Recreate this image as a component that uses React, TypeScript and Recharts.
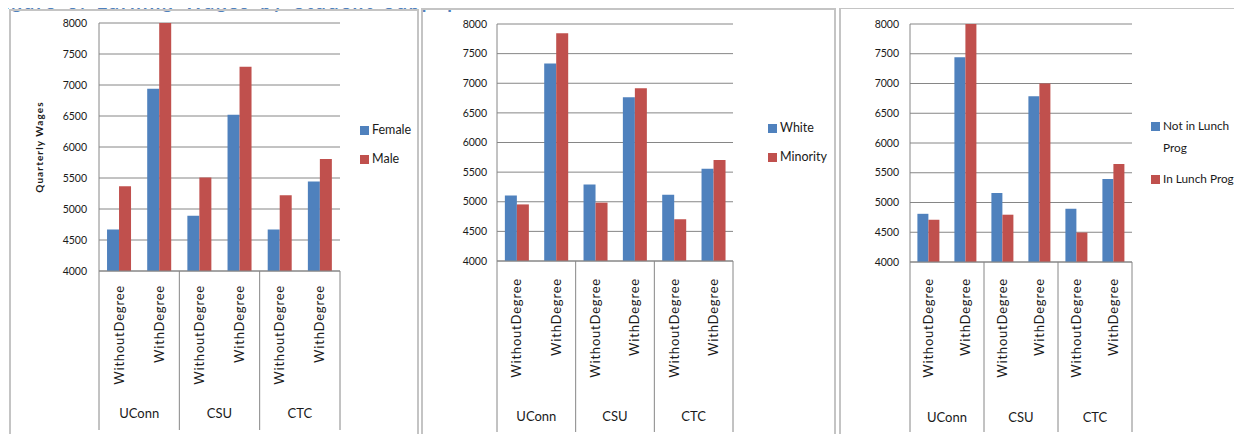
import React from "react";
import { BarChart, Bar, XAxis, YAxis, CartesianGrid } from "recharts";

const GROUPS = ["UConn", "CSU", "CTC"];
const LEVELS = ["WithoutDegree", "WithDegree"];
const Y_TICKS = [4000, 4500, 5000, 5500, 6000, 6500, 7000, 7500, 8000];

// values, order: UConn w/o, UConn with, CSU w/o, CSU with, CTC w/o, CTC with
const FEMALE = [4670, 6940, 4890, 6520, 4670, 5445];
const MALE = [5365, 8000, 5510, 7295, 5220, 5805];
const WHITE = [5105, 7335, 5290, 6765, 5120, 5555];
const MINORITY = [4955, 7845, 4985, 6915, 4705, 5705];
const NOT_LUNCH = [4810, 7440, 5160, 6785, 4895, 5395];
const IN_LUNCH = [4710, 8000, 4795, 7000, 4495, 5645];

const TITLE = "Figure 6: Earning Wages by Student Subpopulation";
const Y_LABEL = "Quarterly Wages";

const BLUE = "#4F81BD";
const RED = "#C0504D";
const GRID = "#868686";
const FRAME = "#c4c4c4";
const FONT = "Lato, 'Open Sans', sans-serif";

type Row = { key: string; group: string; level: string; a: number; b: number };

const rows = (a: number[], b: number[]): Row[] =>
  GROUPS.flatMap((g, gi) =>
    LEVELS.map((l, li) => {
      const i = gi * LEVELS.length + li;
      return { key: `${g}-${l}`, group: g, level: l, a: a[i], b: b[i] };
    })
  );

type PanelCfg = {
  data: Row[];
  names: [string, string];
  box: { left: number; top: number; width: number; height: number };
  margin: { top: number; right: number; bottom: number; left: number };
  yWidth: number;
  tickGap: number;
  xHeight: number;
  labelGap: number;
  sepLen: number;
  groupY: number;
  legend: { left: number; tops: number[]; width: number; size: number };
  yLabel?: boolean;
};

const PANELS: PanelCfg[] = [
  {
    data: rows(FEMALE, MALE),
    names: ["Female", "Male"],
    box: { left: 9, top: 9, width: 410, height: 433 },
    margin: { top: 14, right: 79, bottom: 11, left: 30 },
    yWidth: 60,
    tickGap: 12,
    xHeight: 160,
    labelGap: 14,
    sepLen: 159,
    groupY: 147,
    legend: { left: 360, tops: [119, 148], width: 60, size: 12.5 },
    yLabel: true,
  },
  {
    data: rows(WHITE, MINORITY),
    names: ["White", "Minority"],
    box: { left: 421, top: 8, width: 415, height: 434 },
    margin: { top: 16, right: 103, bottom: 11, left: 36 },
    yWidth: 40,
    tickGap: 10,
    xHeight: 170,
    labelGap: 17,
    sepLen: 171,
    groupY: 160,
    legend: { left: 768, tops: [117, 146], width: 62, size: 12.5 },
  },
  {
    data: rows(NOT_LUNCH, IN_LUNCH),
    names: ["Not in Lunch Prog", "In Lunch Prog"],
    box: { left: 839, top: 7, width: 403, height: 435 },
    margin: { top: 17, right: 110, bottom: 10, left: 31 },
    yWidth: 40,
    tickGap: 11,
    xHeight: 170,
    labelGap: 16,
    sepLen: 170,
    groupY: 160,
    legend: { left: 1151, tops: [115, 168], width: 76, size: 11.8 },
  },
];

function Panel({ cfg }: { cfg: PanelCfg }) {
  const { box, margin, yWidth, data } = cfg;
  const plotW = box.width - margin.left - margin.right - yWidth;
  const band = plotW / data.length;

  const renderTick = (props: any) => {
    const { x, y, payload } = props;
    const i = data.findIndex((d) => d.key === payload.value);
    if (i < 0) return <g />;
    const row = data[i];
    const ly = y + cfg.labelGap;
    return (
      <g>
        <text
          x={x}
          y={ly}
          dy="0.35em"
          transform={`rotate(-90, ${x}, ${ly})`}
          textAnchor="end"
          fontSize={13}
          letterSpacing={0.8}
          fontFamily={FONT}
          fill="#1a1a1a"
        >
          {row.level}
        </text>
        {i % LEVELS.length === 0 && (
          <>
            <line x1={x - band / 2} x2={x - band / 2} y1={y} y2={y + cfg.sepLen} stroke={GRID} />
            <text
              x={x + band / 2}
              y={y + cfg.groupY}
              textAnchor="middle"
              fontSize={13}
              fontFamily={FONT}
              fill="#1a1a1a"
            >
              {row.group}
            </text>
          </>
        )}
        {i === data.length - 1 && (
          <line x1={x + band / 2} x2={x + band / 2} y1={y} y2={y + cfg.sepLen} stroke={GRID} />
        )}
      </g>
    );
  };

  const renderYLabel = (p: any) => {
    const vb = p.viewBox || { x: margin.left, y: margin.top, height: 248 };
    const cx = vb.x;
    const cy = vb.y + vb.height / 2;
    return (
      <text
        x={cx}
        y={cy}
        dy="0.35em"
        transform={`rotate(-90, ${cx}, ${cy})`}
        textAnchor="middle"
        fontSize={10}
        fontWeight="bold"
        letterSpacing={1.1}
        fontFamily={FONT}
        fill="#1a1a1a"
      >
        {Y_LABEL}
      </text>
    );
  };

  return (
    <>
      <div
        style={{
          position: "absolute",
          left: box.left,
          top: box.top,
          width: box.width,
          height: 500,
          borderLeft: `2px solid ${FRAME}`,
          borderTop: `2px solid ${FRAME}`,
          borderRight: `2px solid ${FRAME}`,
          boxSizing: "border-box",
        }}
      />
      <div style={{ position: "absolute", left: box.left, top: box.top }}>
        <BarChart
          width={box.width}
          height={box.height}
          data={data}
          margin={margin}
          barCategoryGap="20%"
          barGap={0}
        >
          <CartesianGrid vertical={false} stroke={GRID} />
          <XAxis
            dataKey="key"
            interval={0}
            height={cfg.xHeight}
            tickLine={false}
            tickSize={0}
            tickMargin={0}
            axisLine={{ stroke: GRID }}
            tick={renderTick}
          />
          <YAxis
            width={yWidth}
            domain={[4000, 8000]}
            ticks={Y_TICKS}
            allowDataOverflow
            tickLine={false}
            tickSize={0}
            tickMargin={cfg.tickGap}
            axisLine={{ stroke: GRID }}
            tick={{ fontSize: 10.5, fontFamily: FONT, fill: "#1a1a1a" }}
            label={cfg.yLabel ? { position: "insideLeft", content: renderYLabel } : undefined}
          />
          <Bar dataKey="a" name={cfg.names[0]} fill={BLUE} isAnimationActive={false} />
          <Bar dataKey="b" name={cfg.names[1]} fill={RED} isAnimationActive={false} />
        </BarChart>
      </div>
      {cfg.names.map((n, k) => (
        <div
          key={n}
          style={{
            position: "absolute",
            left: cfg.legend.left,
            top: cfg.legend.tops[k],
            display: "flex",
            alignItems: "flex-start",
            fontFamily: FONT,
            fontSize: cfg.legend.size,
            lineHeight: "22px",
            color: "#1a1a1a",
          }}
        >
          <div
            style={{
              width: 9,
              height: 9,
              marginTop: 7,
              background: k === 0 ? BLUE : RED,
              flex: "none",
            }}
          />
          <div style={{ marginLeft: 3, width: cfg.legend.width }}>{n}</div>
        </div>
      ))}
    </>
  );
}

export default function App() {
  return (
    <div
      style={{
        position: "relative",
        width: 1242,
        height: 442,
        margin: -8,
        overflow: "hidden",
        background: "#fff",
      }}
    >
      <div
        style={{
          position: "absolute",
          left: -8,
          top: -8,
          fontFamily: FONT,
          fontWeight: "bold",
          fontSize: 19,
          lineHeight: "19px",
          letterSpacing: 2,
          wordSpacing: 3,
          color: BLUE,
          whiteSpace: "nowrap",
        }}
      >
        {TITLE}
      </div>
      {PANELS.map((p, i) => (
        <Panel key={i} cfg={p} />
      ))}
    </div>
  );
}
